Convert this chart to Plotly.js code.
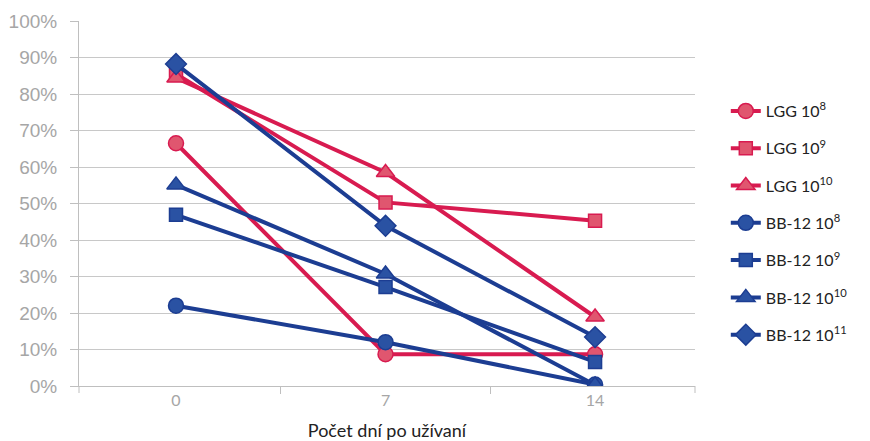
<!DOCTYPE html>
<html><head><meta charset="utf-8">
<script src="https://cdn.plot.ly/plotly-3.0.1.min.js"></script>
<style>body{margin:0;background:#fff}#c{width:870px;height:441px}</style>
</head><body><div id="c"></div>
<script>
const xPos = [0, 1, 2];
const xLabels = ['0', '7', '14'];
const seriesNames = ['LGG 10<sup>8</sup>', 'LGG 10<sup>9</sup>', 'LGG 10<sup>10</sup>',
  'BB-12 10<sup>8</sup>', 'BB-12 10<sup>9</sup>', 'BB-12 10<sup>10</sup>', 'BB-12 10<sup>11</sup>'];
const lgg8 = [66.5, 8.7, 8.7];
const lgg9 = [85.5, 50.3, 45.3];
const lgg10 = [84.4, 58.5, 18.9];
const bb8 = [22.0, 12.0, 0.4];
const bb9 = [46.9, 27.1, 6.6];
const bb10 = [55.1, 30.7, 0.3];
const bb11 = [88.2, 43.9, 13.4];
const yTickVals = [0,10,20,30,40,50,60,70,80,90,100];
const yTickText = ['0%','10%','20%','30%','40%','50%','60%','70%','80%','90%','100%'];

const RED = '#d81b50', REDF = '#e0566f', BLUE = '#1c3d92', BLUEF = '#2a52a3';
const vals = [lgg8, lgg9, lgg10, bb8, bb9, bb10, bb11];
const symbols = ['circle','square','triangle-up','circle','square','triangle-up','diamond'];
const sizes = [15, 13, 16, 15, 13, 16, 16];
const traces = vals.map((v, i) => {
  const red = i < 3;
  return {
    x: xPos, y: v, name: seriesNames[i], type: 'scatter', mode: 'lines+markers',
    legendgroup: 'g' + i,
    line: {color: red ? RED : BLUE, width: 4},
    marker: {symbol: symbols[i], size: sizes[i], color: red ? REDF : BLUEF,
             line: {color: red ? RED : BLUE, width: 1.5}}
  };
});

const layout = {
  width: 870, height: 441,
  margin: {l: 79, r: 175, t: 21, b: 55},
  paper_bgcolor: '#fff', plot_bgcolor: '#fff',
  showlegend: true,
  legend: {x: 1.05, xanchor: 'left', y: 0.80, yanchor: 'top', traceorder: 'grouped',
           tracegroupgap: 13.5, font: {family: 'Lato, sans-serif', size: 16, color: '#222'}},
  xaxis: {range: [-0.463, 2.477], tickvals: xPos, ticktext: xLabels, ticks: '',
          showgrid: false, zeroline: false, showline: true, linecolor: '#bfbfbf', linewidth: 1,
          tickfont: {family: 'Lato, sans-serif', size: 16, color: '#a6a6a6'},
          minor: {tick0: 0.5, dtick: 1, ticks: 'outside', ticklen: 7, tickcolor: '#bfbfbf', showgrid: false},
          title: {text: 'Počet dní po užívaní', font: {family: 'Lato, sans-serif', size: 18, color: '#222'}, standoff: 18}},
  yaxis: {range: [0, 100], tickvals: yTickVals, ticktext: yTickText, ticks: 'outside', ticklen: 8,
          tickcolor: '#bfbfbf', showgrid: true, gridcolor: '#c8c8c8', gridwidth: 1, zeroline: false,
          showline: true, linecolor: '#bfbfbf', linewidth: 1, ticklabelstandoff: 9,
          tickfont: {family: '"Liberation Sans", Arial, sans-serif', size: 19, color: '#a6a6a6'}},
  shapes: [
    {type: 'line', xref: 'paper', x0: 1, x1: 1, yref: 'paper', ysizemode: 'pixel', yanchor: 0,
     y0: 0, y1: -7, line: {color: '#bfbfbf', width: 1}},
    {type: 'line', xref: 'paper', x0: 0, x1: 0, yref: 'paper', ysizemode: 'pixel', yanchor: 0,
     y0: 0, y1: -7, line: {color: '#bfbfbf', width: 1}}
  ]
};
Plotly.newPlot('c', traces, layout, {staticPlot: true});
</script></body></html>
